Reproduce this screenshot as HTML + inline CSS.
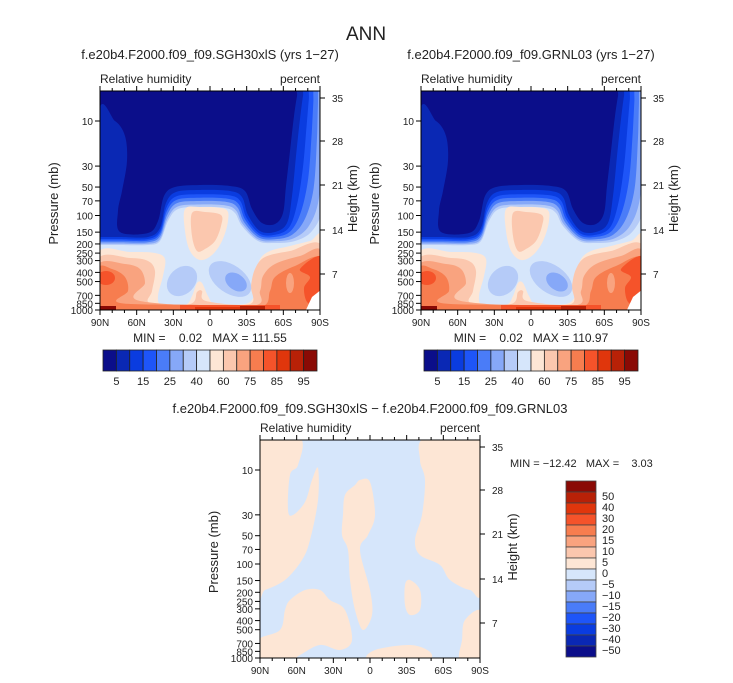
<!DOCTYPE html>
<html><head><meta charset="utf-8"><style>
html,body{margin:0;padding:0;background:#fff;}
svg{display:block;font-family:"Liberation Sans",sans-serif;}
text{white-space:pre;}
</style></head><body>
<svg id="root" width="733" height="683" viewBox="0 0 733 683" xmlns="http://www.w3.org/2000/svg">
<defs>
<clipPath id="clipTop"><rect x="0" y="0" width="220" height="219"/></clipPath>
<clipPath id="clipBot"><rect x="0" y="0" width="220" height="218"/></clipPath>
</defs>
<text x="366" y="40" font-size="19" text-anchor="middle" fill="#222">ANN</text>
<g id="panels"></g>
</svg>
<script>
// ---- data arrays ----
const absColors = ["#0b0e8a","#0a28b4","#0a3ce0","#1e55f8","#4a7cf8","#86a8f8","#b5cbf8","#d6e6fb","#fde6d5","#fbc7ae","#f9a37f","#f77d4f","#f5532a","#e0360c","#b82107","#8a0a05"];
const absLabels = ["5","15","25","40","60","75","85","95"];
const diffColors = ["#8a0a05","#b82107","#e0360c","#f5532a","#f77d4f","#f9a37f","#fbc7ae","#fde6d5","#d6e6fb","#b5cbf8","#86a8f8","#4a7cf8","#1e55f8","#0a3ce0","#0a28b4","#0b0e8a"];
const diffLabels = ["50","40","30","20","15","10","5","0","−5","−10","−15","−20","−30","−40","−50"];
const pressureTicks = [10,30,50,70,100,150,200,250,300,400,500,700,850,1000];
const heightTicks = [35,28,21,14,7];
const latLabels = ["90N","60N","30N","0","30S","60S","90S"];
const heightPos = [7,50,94,139,183];

const NS="http://www.w3.org/2000/svg";
const root=document.getElementById('panels');
function el(tag,attrs,parent){const e=document.createElementNS(NS,tag);for(const k in attrs)e.setAttribute(k,attrs[k]);(parent||root).appendChild(e);return e;}
function txt(s,x,y,size,anchor,parent,extra){const t=el('text',Object.assign({x:x,y:y,'font-size':size,'text-anchor':anchor||'start',fill:'#222'},extra||{}),parent);t.textContent=s;return t;}
function smooth(pts){let d="M"+pts[0][0]+","+pts[0][1];const n=pts.length;
 for(let i=0;i<n;i++){const p0=pts[(i-1+n)%n],p1=pts[i],p2=pts[(i+1)%n],p3=pts[(i+2)%n];
  const c1=[p1[0]+(p2[0]-p0[0])/6,p1[1]+(p2[1]-p0[1])/6],c2=[p2[0]-(p3[0]-p1[0])/6,p2[1]-(p3[1]-p1[1])/6];
  d+=" C"+c1[0].toFixed(1)+","+c1[1].toFixed(1)+" "+c2[0].toFixed(1)+","+c2[1].toFixed(1)+" "+p2[0]+","+p2[1];}
 return d+"Z";}
function poly(pts){return "M"+pts.map(p=>p.join(",")).join(" L")+"Z";}

const B1=[[-2,27],[15,30],[25,45],[27,70],[22,100],[18,120],[20,141],[48,142],[58,130],[64,105],[75,96],[100,94],[130,95],[145,100],[152,118],[162,132],[175,133],[183,122],[186,95],[190,60],[194,25],[197,5],[199,-2],[222,-2],[222,221],[-2,221]];
const B2=[[-2,146],[-2,146],[-2,146],[-2,146],[-2,146],[0,146],[20,146],[48,146],[60,137],[66,112],[76,101],[100,99],[130,100],[142,106],[148,124],[160,140],[175,141],[187,132],[192,105],[196,65],[200,28],[203,5],[205,-2],[225,-2],[225,221],[-2,221]];
const B7=[[-2,154],[-2,154],[-2,154],[-2,154],[-2,154],[0,154],[20,154],[48,154],[60,150],[68,130],[78,118],[100,116],[125,117],[135,122],[142,135],[158,150],[175,152],[195,150],[212,140],[223,115],[226,60],[226,20],[226,-2],[226,-2],[225,221],[-2,221]];
const W1=[[-2,162],[30,161],[55,162],[65,168],[63,185],[58,205],[62,214],[85,214],[92,205],[97,192],[102,192],[108,205],[115,214],[135,214],[150,211],[156,198],[158,180],[160,168],[170,160],[190,155],[210,150],[222,147],[222,221],[-2,221]];
const W2=[[-2,168],[30,167],[48,170],[55,180],[52,200],[50,212],[90,213],[97,201],[102,200],[106,210],[150,213],[151,195],[155,178],[165,166],[190,160],[222,155],[222,221],[-2,221]];
const W3=[[-2,174],[25,173],[40,178],[45,192],[40,210],[150,215],[160,200],[163,185],[175,173],[200,165],[222,161],[222,221],[-2,221]];
const W4=[[-2,178],[12,178],[25,186],[28,200],[20,212],[100,214],[160,216],[170,200],[175,186],[195,175],[222,168],[222,221],[-2,221]];
const W5=[[200,178],[222,166],[222,210],[208,212],[204,197],[210,186]];
const T1=[[85,118],[100,116],[125,118],[128,130],[122,150],[112,164],[100,169],[90,160],[85,140]];
const T2=[[92,122],[105,121],[121,124],[121,135],[115,150],[105,158],[97,160],[92,145]];
const D=[
 [[-2,-2],[40,-2],[38,25],[30,35],[28,70],[33,75],[45,62],[52,40],[58,28],[58,60],[50,100],[42,120],[25,140],[5,150],[-2,150]],
 [[165,-2],[222,-2],[222,145],[210,150],[190,140],[180,125],[160,115],[155,100],[162,75],[165,40],[160,20]],
 [[85,55],[95,45],[100,40],[110,42],[115,75],[108,95],[100,110],[110,150],[112,175],[103,190],[95,170],[90,140],[88,110],[82,95],[83,75]],
 [[-2,200],[20,190],[25,170],[30,160],[45,150],[60,150],[70,160],[85,170],[92,200],[80,210],[60,205],[40,215],[30,220],[-2,220]],
 [[145,145],[150,140],[160,150],[160,170],[150,175],[145,165]],
 [[205,180],[222,172],[222,220],[200,220],[202,200]],
 [[115,210],[150,205],[170,212],[165,220],[110,220]]
];

function axes(g,W,H){
 el('rect',{x:0,y:0,width:W,height:H,fill:'none',stroke:'#000','stroke-width':1},g);
 const sc=(H-30)/2;
 pressureTicks.forEach(p=>{const y=H-sc*Math.log10(1000/p);
  el('line',{x1:-5,y1:y,x2:0,y2:y,stroke:'#000'},g);
  txt(String(p),-7,y+4,10,'end',g);});
 heightTicks.forEach((h,i)=>{const y=heightPos[i];
  el('line',{x1:W,y1:y,x2:W+5,y2:y,stroke:'#000'},g);
  txt(String(h),W+12,y+4,10,'start',g);});
 for(let i=0;i<=18;i++){const x=i*W/18;const L=i%3==0?5:3;
  el('line',{x1:x,y1:H,x2:x,y2:H+L,stroke:'#000'},g);
  el('line',{x1:x,y1:0,x2:x,y2:-L,stroke:'#000'},g);}
 latLabels.forEach((s,i)=>txt(s,i*W/6,H+16,10,'middle',g));
 txt("Relative humidity",0,-8,12,'start',g);
 txt("percent",W,-8,12,'end',g);
 const yl=txt("Pressure (mb)",0,0,13,'middle',g,{transform:`translate(-42,${H/2+3}) rotate(-90)`});
 
 
 const hl=txt("Height (km)",0,0,13,'middle',g,{transform:`translate(${W+37},${H/2-2}) rotate(-90)`});
 
 
}

function absPanel(ox,title,maxv,name){
 const g=el('g',{transform:`translate(${ox},91)`});
 
 
 txt(title,110,-32,13,'middle',g);
 const f=el('g',{'clip-path':'url(#clipTop)'},g);
 
 
 el('rect',{x:0,y:0,width:220,height:219,fill:absColors[0]},f);
 el('path',{d:smooth(B1),fill:absColors[1]},f);
 const ts=[0,.25,.45,.65,.85,1];
 ts.forEach((t,i)=>{const pts=B2.map((p,j)=>[+(p[0]+(B7[j][0]-p[0])*t).toFixed(1),+(p[1]+(B7[j][1]-p[1])*t).toFixed(1)]);
  el('path',{d:smooth(pts),fill:absColors[2+i]},f);});
 el('path',{d:smooth(W1),fill:absColors[8]},f);
 el('path',{d:smooth(W2),fill:absColors[9]},f);
 el('path',{d:smooth(W3),fill:absColors[10]},f);
 el('path',{d:smooth(W4),fill:absColors[11]},f);
 el('path',{d:smooth(W5),fill:absColors[12]},f);
 el('ellipse',{cx:6,cy:187,rx:9,ry:7,fill:absColors[12]},f);
 el('ellipse',{cx:190,cy:192,rx:4,ry:10,fill:absColors[10]},f);
 el('rect',{x:80,y:214,width:100,height:6,fill:absColors[12]},f);
 el('rect',{x:95,y:216,width:70,height:4,fill:absColors[13]},f);
 el('rect',{x:0,y:215,width:16,height:5,fill:absColors[15]},f);
 el('rect',{x:140,y:215,width:25,height:5,fill:absColors[14]},f);
 el('path',{d:smooth(T1),fill:absColors[8]},f);
 el('path',{d:smooth(T2),fill:absColors[9]},f);
 el('ellipse',{cx:82,cy:190,rx:17,ry:13,transform:'rotate(-45 82 190)',fill:absColors[6]},f);
 el('ellipse',{cx:130,cy:188,rx:24,ry:14,transform:'rotate(35 130 188)',fill:absColors[6]},f);
 el('ellipse',{cx:136,cy:191,rx:12,ry:8,transform:'rotate(35 136 191)',fill:absColors[5]},f);
 el('path',{d:poly([[212,206],[222,198],[222,221],[205,221]]),fill:'#fff'},f);
 axes(g,220,219);
 txt("MIN =    0.02   MAX = "+maxv,110,251,12,'middle',g);
 const cb=el('g',{transform:'translate(3,259)'},g);
 
 
 const bw=214/absColors.length;
 absColors.forEach((c,i)=>{const r=el('rect',{x:i*bw,y:0,width:bw,height:21,fill:c,stroke:'#222','stroke-width':0.8},cb);
  
  });
 absLabels.forEach((s,i)=>txt(s,(2*i+1)*bw,35,11,'middle',cb));
}
absPanel(100,"f.e20b4.F2000.f09_f09.SGH30xlS (yrs 1−27)","111.55","panel-sgh30");
absPanel(421,"f.e20b4.F2000.f09_f09.GRNL03 (yrs 1−27)","110.97","panel-grnl03");

(function(){
 const g=el('g',{transform:'translate(260,440)'});
 
 
 txt("f.e20b4.F2000.f09_f09.SGH30xlS − f.e20b4.F2000.f09_f09.GRNL03",110,-27,13,'middle',g);
 const f=el('g',{'clip-path':'url(#clipBot)'},g);
 
 
 el('rect',{x:0,y:0,width:220,height:218,fill:diffColors[8]},f);
 D.forEach(pts=>el('path',{d:smooth(pts),fill:diffColors[7]},f));
 axes(g,220,218);
 txt("MIN = −12.42   MAX =    3.03",250,27,11,'start',g);
 const cb=el('g',{transform:'translate(306,41)'},g);
 
 
 const bh=176/diffColors.length;
 diffColors.forEach((c,i)=>{const r=el('rect',{x:0,y:i*bh,width:30,height:bh,fill:c,stroke:'#444','stroke-width':0.8},cb);
  
  });
 diffLabels.forEach((s,i)=>txt(s,36,(i+1)*bh+8,11,'start',cb));
})();
</script>
</body></html>
